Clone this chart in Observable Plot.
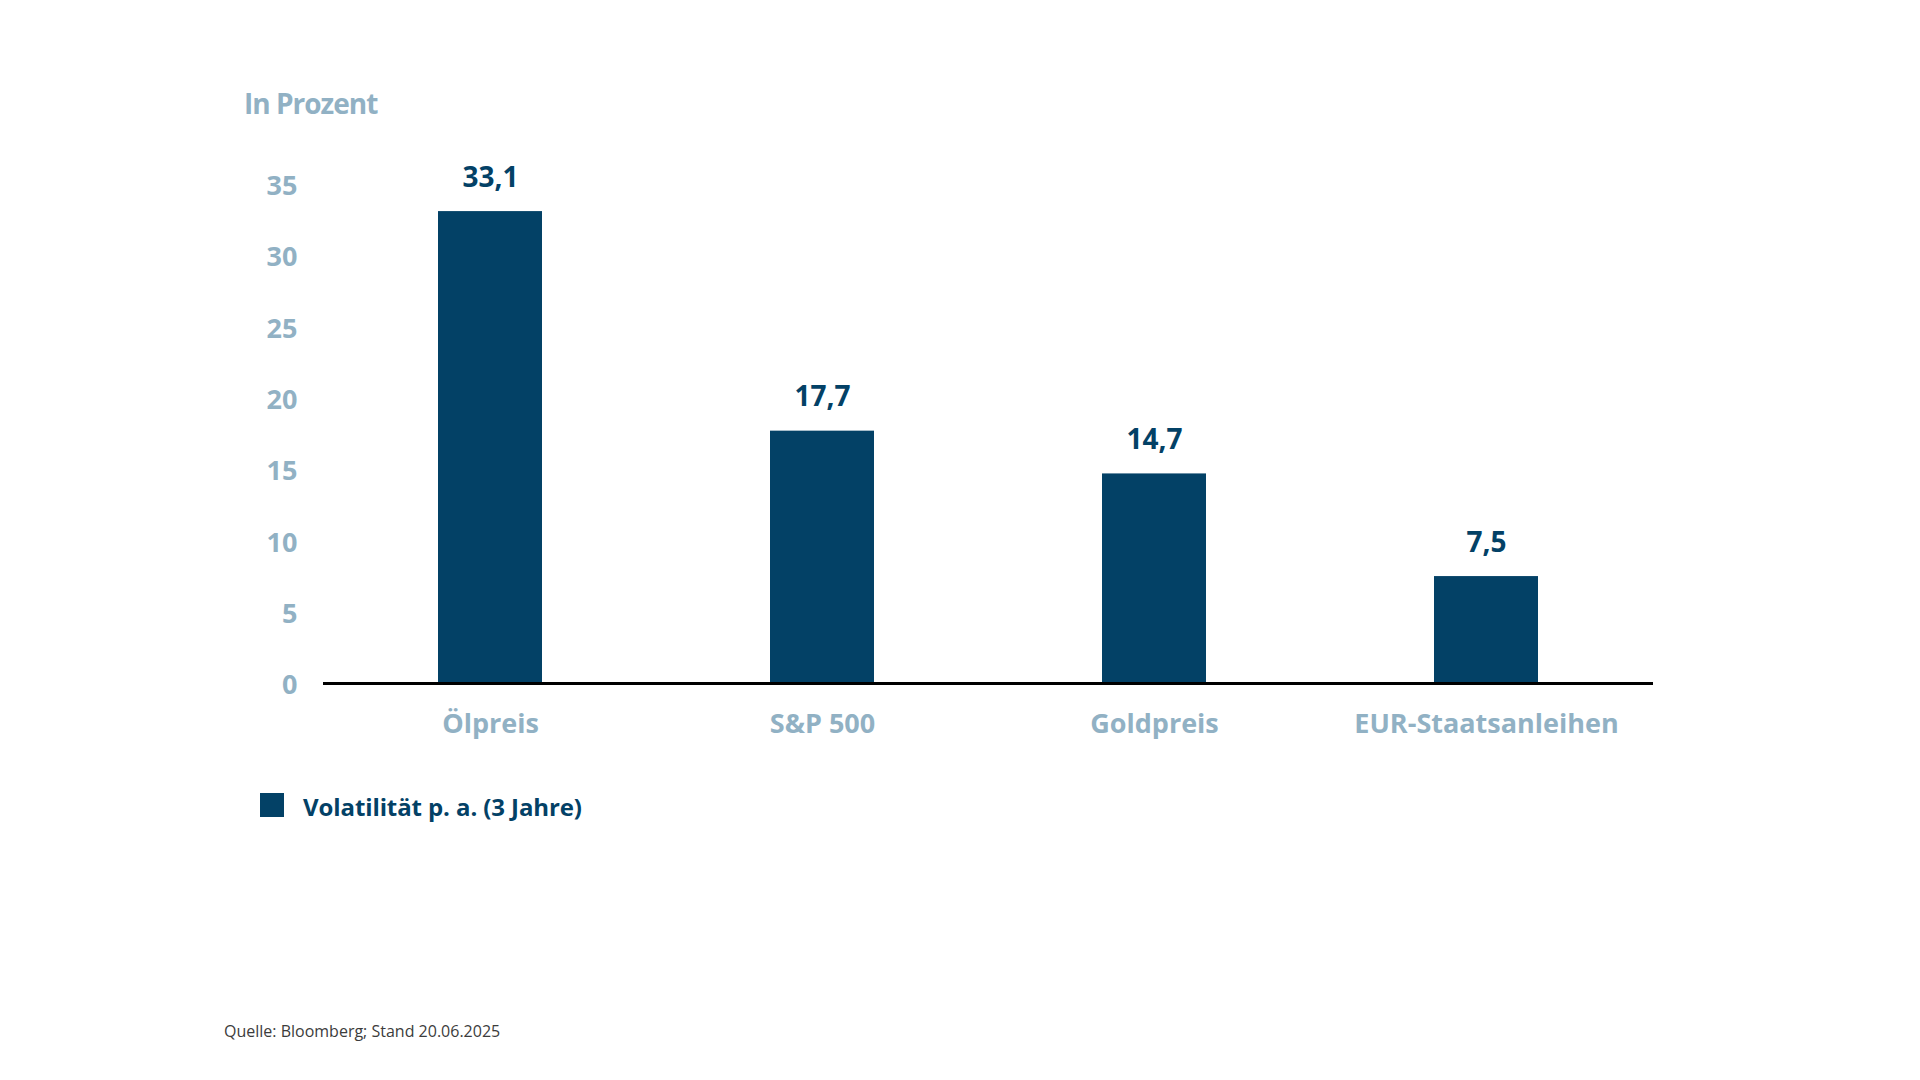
<!DOCTYPE html>
<html lang="de">
<head>
<meta charset="utf-8">
<script src="https://cdn.jsdelivr.net/npm/d3@7"></script>
<script src="https://cdn.jsdelivr.net/npm/@observablehq/plot@0.6"></script>
<style>
  html, body { margin: 0; padding: 0; background: #ffffff; }
  #page { position: relative; width: 1920px; height: 1080px; overflow: hidden; background: #fff; font-family: "Open Sans", sans-serif; }
  #chart { position: absolute; left: 0; top: 0; }
  .title { position: absolute; left: 244px; top: 89px; font-size: 28px; line-height: 28px; font-weight: 700; letter-spacing: -1px; color: #91b1c4; white-space: nowrap; }
  .legend { position: absolute; left: 260px; top: 793px; display: flex; align-items: flex-start; white-space: nowrap; }
  .legend .sw { width: 24px; height: 24px; background: #034166; margin-right: 19px; }
  .legend .lbl { font-size: 24px; line-height: 24px; font-weight: 700; letter-spacing: -0.1px; color: #034166; margin-top: 2px; }
  .source { position: absolute; left: 224px; top: 1023px; font-size: 16px; line-height: 16px; color: #3c3c3c; white-space: nowrap; }
</style>
</head>
<body>
<div id="page">
  <div class="title">In Prozent</div>
  <div id="chart"></div>
  <div class="legend"><div class="sw"></div><div class="lbl">Volatilität p. a. (3 Jahre)</div></div>
  <div class="source">Quelle: Bloomberg; Stand 20.06.2025</div>
</div>
<script>
const categories = ["Ölpreis", "S&P 500", "Goldpreis", "EUR-Staatsanleihen"];
const values = [33.1, 17.7, 14.7, 7.5];
const yTicks = [0, 5, 10, 15, 20, 25, 30, 35];

const navy = "#034166";
const grey = "#91b1c4";
const data = categories.map((c, i) => ({cat: c, value: values[i]}));
const fmt = v => v.toFixed(1).replace(".", ",");

const chart = Plot.plot({
  width: 1920,
  height: 760,
  marginLeft: 323,
  marginRight: 267,
  marginTop: 184,
  marginBottom: 77,
  style: {fontFamily: "'Open Sans', sans-serif", background: "transparent", overflow: "visible"},
  x: {domain: categories, paddingInner: 0.687, paddingOuter: 0.3435, label: null},
  y: {domain: [0, 35], label: null},
  marks: [
    Plot.barY(data, {x: "cat", y: "value", fill: navy}),
    Plot.ruleY([0], {stroke: "#000", strokeWidth: 3}),
    Plot.text(data, {x: "cat", y: "value", text: d => fmt(d.value), dy: -34, fill: navy, fontSize: 28, fontWeight: 700}),
    Plot.axisY({ticks: yTicks, tickSize: 0, tickPadding: 26, dy: 2, fontSize: 27, fontWeight: 700, fill: grey, label: null}),
    Plot.axisX({tickSize: 0, tickPadding: 30, fontSize: 27, fontWeight: 700, fill: grey, label: null})
  ]
});
document.getElementById("chart").appendChild(chart);
</script>
</body>
</html>
